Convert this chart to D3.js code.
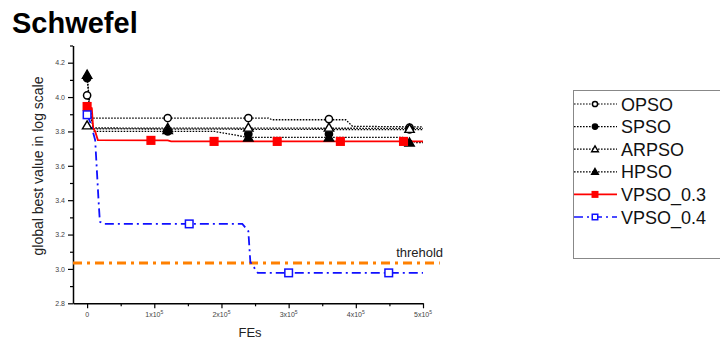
<!DOCTYPE html>
<html><head><meta charset="utf-8">
<script src="https://cdn.jsdelivr.net/npm/d3@7"></script>
<style>body{margin:0;background:#fff}svg{display:block}text{font-family:"Liberation Sans",Arial,sans-serif}</style>
</head><body><svg id="c" width="720" height="340"></svg>
<script>
// ---- data ----
const seriesNames = ["OPSO","SPSO","ARPSO","HPSO","VPSO_0.3","VPSO_0.4"];
const OPSO_x = [0,4000,8000,270000,275000,385000,395000,500000];
const OPSO_y = [4.01,3.95,3.878,3.878,3.868,3.868,3.83,3.826];
const OPSO_mx = [0,120000,240000,360000,480000];
const OPSO_my = [4.01,3.878,3.878,3.872,3.822];
const SPSO_x = [0,5000,10000,500000];
const SPSO_y = [4.11,3.9,3.815,3.81];
const SPSO_mx = [0,120000,240000,360000,480000];
const SPSO_my = [4.11,3.80,3.785,3.785,3.812];
const ARPSO_x = [0,3000,6000,500000];
const ARPSO_y = [3.835,3.83,3.82,3.818];
const ARPSO_mx = [0,120000,240000,360000,480000];
const ARPSO_my = [3.835,3.82,3.822,3.822,3.815];
const HPSO_x = [0,5000,10000,190000,240000,470000,490000,500000];
const HPSO_y = [4.13,3.9,3.80,3.80,3.765,3.765,3.735,3.735];
const HPSO_mx = [0,120000,240000,360000,480000];
const HPSO_my = [4.13,3.808,3.765,3.765,3.735];
const V3_x = [0,7000,9000,12000,16000,120000,125000,500000];
const V3_y = [3.945,3.935,3.82,3.80,3.75,3.748,3.742,3.742];
const V3_mx = [0,95000,189000,283000,377000,471000];
const V3_my = [3.945,3.748,3.742,3.742,3.742,3.742];
const V4_x = [0,5000,12000,17000,19000,24000,231000,240000,243000,254000,500000];
const V4_y = [3.897,3.85,3.75,3.40,3.275,3.262,3.262,3.22,3.04,2.977,2.977];
const V4_mx = [0,152000,300000,449000];
const V4_my = [3.897,3.262,2.977,2.977];
const threshold = 3.035;
const thresholdLabel = "threhold";
const xTicks = [0,100000,200000,300000,400000,500000];
const xTickLabels = ["0","1x10|5","2x10|5","3x10|5","4x10|5","5x10|5"];
const xMinor = [50000,150000,250000,350000,450000];
const yTicks = [2.8,3.0,3.2,3.4,3.6,3.8,4.0,4.2];
const yMinor = [2.9,3.1,3.3,3.5,3.7,3.9,4.1,4.3];

// ---- drawing ----
const svg = d3.select("#c");
const x = d3.scaleLinear().domain([-21000,500000]).range([73,423]);
const y = d3.scaleLinear().domain([2.8,4.3]).range([303.3,45.5]);

svg.append("text").attr("x",12).attr("y",33).attr("font-size",29).attr("font-weight","bold").text("Schwefel");

// axes
const gx = svg.append("g").attr("transform","translate(0,303.3)");
gx.call(d3.axisBottom(x).tickValues(xTicks).tickSize(5).tickSizeOuter(0).tickFormat(""));
gx.append("g").call(d3.axisBottom(x).tickValues(xMinor).tickSize(3).tickFormat(""));
gx.selectAll("g g path.domain").remove();
gx.select("path.domain").attr("stroke-width",1.5);
gx.selectAll(".tick line").attr("stroke-width",1.2);
xTicks.forEach((v,i)=>{
  const parts = xTickLabels[i].split("|");
  const t = gx.append("text").attr("x",x(v)).attr("y",14).attr("text-anchor","middle")
    .attr("font-size",7).attr("fill","#444");
  t.append("tspan").text(parts[0]);
  if(parts[1]) t.append("tspan").attr("dy",-3).attr("font-size",5).text(parts[1]);
});
const gy = svg.append("g").attr("transform","translate(73,0)");
gy.call(d3.axisLeft(y).tickValues(yTicks).tickSize(5).tickSizeOuter(0).tickFormat(d3.format(".1f")));
gy.append("g").call(d3.axisLeft(y).tickValues(yMinor).tickSize(3).tickFormat(""));
gy.selectAll("g g path.domain").remove();
gy.select("path.domain").attr("stroke-width",1.5);
gy.selectAll(".tick line").attr("stroke-width",1.2);
gy.selectAll(".tick text").attr("font-size",7).attr("fill","#444").attr("font-family","Liberation Sans, Arial").attr("x",-8);

svg.append("text").attr("transform","translate(43,166) rotate(-90)").attr("text-anchor","middle")
  .attr("font-size",14).attr("fill","#222").text("global best value in log scale");
svg.append("text").attr("x",250).attr("y",337).attr("text-anchor","middle").attr("font-size",13).attr("fill","#222").text("FEs");

// threshold
svg.append("line").attr("x1",x(-21000)).attr("x2",x(525000)).attr("y1",y(threshold)).attr("y2",y(threshold))
  .attr("stroke","#ff8000").attr("stroke-width",3).attr("stroke-dasharray","9,5,3,5");
svg.append("text").attr("x",x(460000)).attr("y",y(threshold)-6).attr("font-size",13).attr("fill","#222").text(thresholdLabel);

const line = d3.line().x(d=>x(d[0])).y(d=>y(d[1]));
const zip = (a,b)=>a.map((v,i)=>[v,b[i]]);

const styles = [
  {lx:OPSO_x,ly:OPSO_y,mx:OPSO_mx,my:OPSO_my,color:"#000",dash:"1.6,1.4",w:1.3,marker:"circle",fill:"#fff"},
  {lx:SPSO_x,ly:SPSO_y,mx:SPSO_mx,my:SPSO_my,color:"#000",dash:"1.6,1.4",w:1.3,marker:"circle",fill:"#000"},
  {lx:ARPSO_x,ly:ARPSO_y,mx:ARPSO_mx,my:ARPSO_my,color:"#000",dash:"1.6,1.4",w:1.3,marker:"triangle",fill:"#fff"},
  {lx:HPSO_x,ly:HPSO_y,mx:HPSO_mx,my:HPSO_my,color:"#000",dash:"1.6,1.4",w:1.3,marker:"triangle",fill:"#000"},
  {lx:V3_x,ly:V3_y,mx:V3_mx,my:V3_my,color:"#ff0000",dash:null,w:1.8,marker:"square",fill:"#ff0000"},
  {lx:V4_x,ly:V4_y,mx:V4_mx,my:V4_my,color:"#1010ff",dash:"9,4,2,4",w:1.8,marker:"square",fill:"#fff"}
];

function drawMarker(g, cx, cy, s, scale){
  if(s.marker==="circle"){
    g.append("circle").attr("cx",cx).attr("cy",cy).attr("r",3.6*scale)
      .attr("fill",s.fill).attr("stroke",s.color).attr("stroke-width",1.5);
  } else if(s.marker==="triangle"){
    g.append("path").attr("transform",`translate(${cx},${cy+0.8*scale})`)
      .attr("d",d3.symbol(d3.symbolTriangle, 38*scale*scale)())
      .attr("fill",s.fill).attr("stroke",s.color).attr("stroke-width",1.4);
  } else {
    const h = 3.8*scale;
    g.append("rect").attr("x",cx-h).attr("y",cy-h).attr("width",2*h).attr("height",2*h)
      .attr("fill",s.fill).attr("stroke",s.color).attr("stroke-width",1.5);
  }
}

const plot = svg.append("g");
styles.forEach(s=>{
  plot.append("path").attr("d",line(zip(s.lx,s.ly))).attr("fill","none")
    .attr("stroke",s.color).attr("stroke-width",s.w).attr("stroke-dasharray",s.dash);
});
styles.forEach(s=>{
  zip(s.mx,s.my).forEach(d=>drawMarker(plot,x(d[0]),y(d[1]),s,1));
});

// legend
const lg = svg.append("g");
lg.append("rect").attr("x",573.5).attr("y",90.5).attr("width",170).attr("height",168)
  .attr("fill","none").attr("stroke","#888").attr("stroke-width",1);
seriesNames.forEach((n,i)=>{
  const s = styles[i]; const cy = 104 + i*22.6;
  lg.append("line").attr("x1",574).attr("x2",617).attr("y1",cy).attr("y2",cy)
    .attr("stroke",s.color).attr("stroke-width",s.dash && s.color==="#000"?1.2:1.6).attr("stroke-dasharray",s.dash);
  drawMarker(lg,595,cy,s,0.72);
  lg.append("text").attr("x",621).attr("y",cy+6.5).attr("font-size",18).attr("fill","#111").text(n);
});
</script></body></html>
